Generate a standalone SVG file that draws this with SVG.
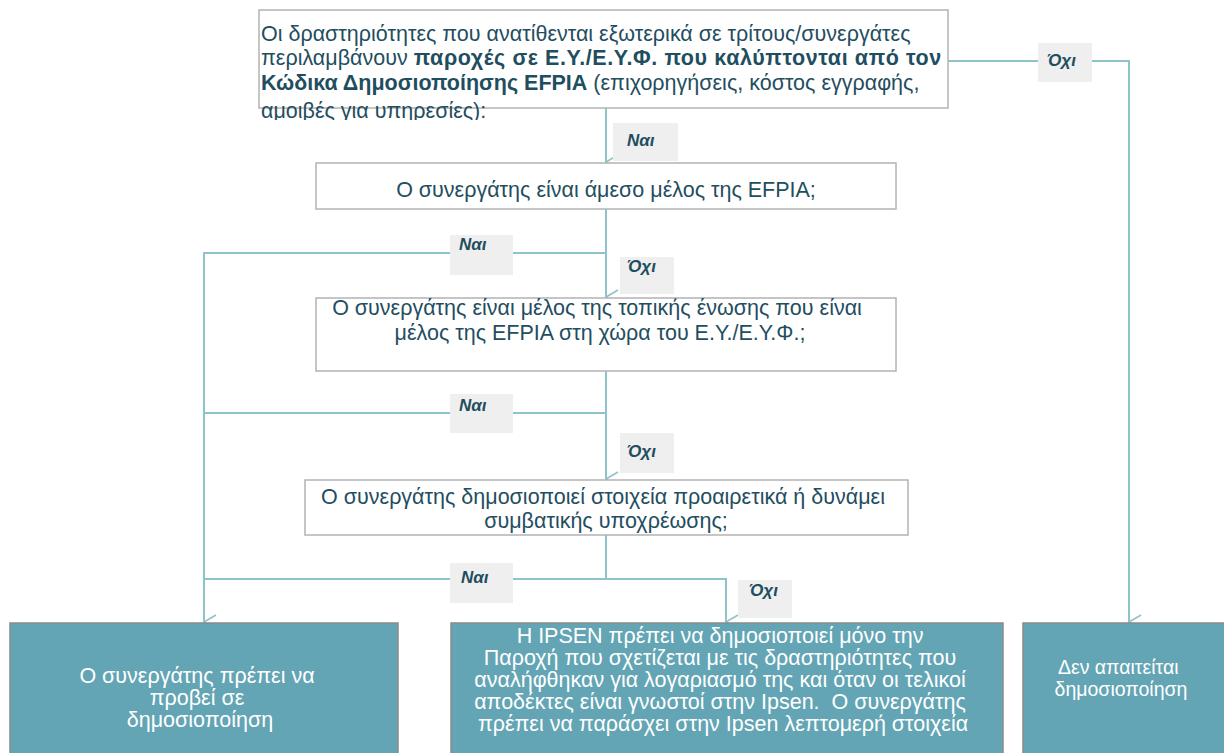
<svg xmlns="http://www.w3.org/2000/svg" width="1224" height="753" viewBox="0 0 1224 753">
<style>
  text { font-family: "Liberation Sans", Arial, sans-serif; }
  .dec { fill: #ffffff; stroke: #b3b3b3; stroke-width: 1.5; }
  .dt { fill: #1f4e5f; font-size: 21.5px; }
  .res { fill: #63a5b4; stroke: #8a8a8a; stroke-width: 1.5; }
  .rt { fill: #ffffff; font-size: 21.5px; text-anchor: middle; }
  .rs { font-size: 19.5px; }
  .lab { fill: #efefef; }
  .lt { fill: #1f4e5f; font-size: 17px; font-weight: bold; font-style: italic; }
  .con { fill: none; stroke: #8ec3cb; stroke-width: 2; }
  .b { font-weight: bold; }
</style>
<defs>
  <marker id="arr" markerWidth="16" markerHeight="16" refX="8" refY="14" orient="auto" markerUnits="userSpaceOnUse" viewBox="0 0 16 16">
    <path d="M1,2 L8,14 L15,2" fill="none" stroke="#8ec3cb" stroke-width="1.6"/>
  </marker>
  <clipPath id="topclip"><rect x="0" y="0" width="1224" height="120"/></clipPath>
</defs>
<rect width="1224" height="753" fill="#ffffff"/>

<g id="connectors">
  <path class="con" d="M606,108 V162" marker-end="url(#arr)"/>
  <path class="con" d="M948,61 H1129 V622" stroke-width="1.5" marker-end="url(#arr)"/>
  <path class="con" d="M606,209 V297" marker-end="url(#arr)"/>
  <path class="con" d="M606,253 H204 V622" marker-end="url(#arr)"/>
  <path class="con" d="M606,371 V479" marker-end="url(#arr)"/>
  <path class="con" d="M606,413 H204"/>
  <path class="con" d="M606,535 V579"/>
  <path class="con" d="M204,579 H726 V622" marker-end="url(#arr)"/>
</g>

<g id="labels">
  <rect class="lab" x="613" y="123" width="65" height="38"/>
  <text class="lt" x="627" y="146">Ναι</text>
  <rect class="lab" x="1038" y="43" width="54" height="39"/>
  <text class="lt" x="1047" y="66">Όχι</text>
  <rect class="lab" x="450" y="235" width="63" height="40"/>
  <text class="lt" x="459" y="250">Ναι</text>
  <rect class="lab" x="620" y="257" width="54" height="37"/>
  <text class="lt" x="627" y="272">Όχι</text>
  <rect class="lab" x="450" y="394" width="63" height="39"/>
  <text class="lt" x="459" y="411">Ναι</text>
  <rect class="lab" x="620" y="433" width="54" height="40"/>
  <text class="lt" x="627" y="457">Όχι</text>
  <rect class="lab" x="450" y="563" width="63" height="40"/>
  <text class="lt" x="461" y="583">Ναι</text>
  <rect class="lab" x="738" y="580" width="54" height="38"/>
  <text class="lt" x="749" y="596">Όχι</text>
</g>

<g id="node-top">
  <rect class="dec" x="259" y="10" width="689" height="98"/>
  <text class="dt" clip-path="url(#topclip)">
    <tspan x="261" y="41">Οι δραστηριότητες που ανατίθενται εξωτερικά σε τρίτους/συνεργάτες</tspan>
    <tspan x="261" y="65">περιλαμβάνουν <tspan class="b" letter-spacing="0.6">παροχές σε Ε.Υ./Ε.Υ.Φ. που καλύπτονται από τον</tspan></tspan>
    <tspan x="261" y="90"><tspan class="b">Κώδικα Δημοσιοποίησης EFPIA</tspan> (επιχορηγήσεις, κόστος εγγραφής,</tspan>
    <tspan x="261" y="118">αμοιβές για υπηρεσίες):</tspan>
  </text>
</g>

<g id="node-q1">
  <rect class="dec" x="316" y="163" width="580" height="46"/>
  <text class="dt" x="606" y="197" text-anchor="middle">Ο συνεργάτης είναι άμεσο μέλος της EFPIA;</text>
</g>

<g id="node-q2">
  <rect class="dec" x="316" y="298" width="580" height="73"/>
  <text class="dt" text-anchor="middle">
    <tspan x="600" y="315">Ο συνεργάτης είναι μέλος της τοπικής ένωσης που είναι</tspan>
    <tspan x="600" y="340">μέλος της EFPIA στη χώρα του Ε.Υ./Ε.Υ.Φ.;</tspan>
  </text>
</g>

<g id="node-q3">
  <rect class="dec" x="305" y="480" width="603" height="55"/>
  <text class="dt" text-anchor="middle">
    <tspan x="606" y="504">Ο συνεργάτης δημοσιοποιεί στοιχεία προαιρετικά ή δυνάμει</tspan>
    <tspan x="606" y="528">συμβατικής υποχρέωσης;</tspan>
  </text>
</g>

<g id="node-partner">
  <rect class="res" x="10" y="623" width="388" height="140"/>
  <text class="rt">
    <tspan x="200" y="683">Ο συνεργάτης πρέπει να</tspan>
    <tspan x="200" y="705">προβεί σε</tspan>
    <tspan x="200" y="727">δημοσιοποίηση</tspan>
  </text>
</g>

<g id="node-ipsen">
  <rect class="res" x="451" y="623" width="552" height="140"/>
  <text class="rt">
    <tspan x="723" y="643">Η IPSEN πρέπει να δημοσιοποιεί μόνο την</tspan>
    <tspan x="723" y="665">Παροχή που σχετίζεται με τις δραστηριότητες που</tspan>
    <tspan x="723" y="687">αναλήφθηκαν για λογαριασμό της και όταν οι τελικοί</tspan>
    <tspan x="723" y="709">αποδέκτες είναι γνωστοί στην Ipsen.&#160; Ο συνεργάτης</tspan>
    <tspan x="723" y="731">πρέπει να παράσχει στην Ipsen λεπτομερή στοιχεία</tspan>
  </text>
</g>

<g id="node-none">
  <rect class="res" x="1023" y="623" width="210" height="140"/>
  <text class="rt rs">
    <tspan x="1121" y="674">Δεν απαιτείται</tspan>
    <tspan x="1121" y="696">δημοσιοποίηση</tspan>
  </text>
</g>
</svg>
